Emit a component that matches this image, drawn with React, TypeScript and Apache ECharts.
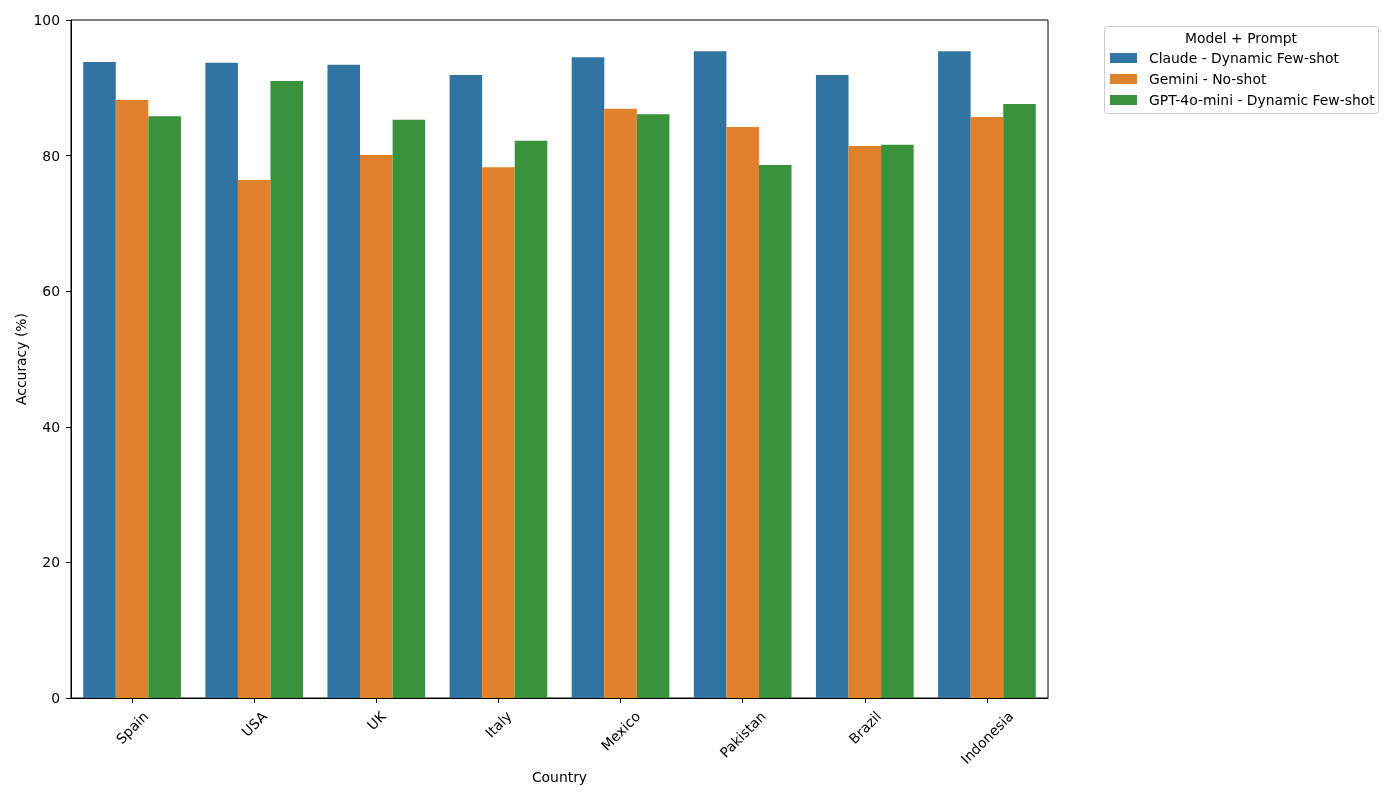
import React, { useEffect, useRef } from "react";
import * as echarts from "echarts";

const countries = ["Spain", "USA", "UK", "Italy", "Mexico", "Pakistan", "Brazil", "Indonesia"];
const seriesNames = ["Claude - Dynamic Few-shot", "Gemini - No-shot", "GPT-4o-mini - Dynamic Few-shot"];
const claude = [93.8, 93.7, 93.4, 91.9, 94.5, 95.4, 91.9, 95.4];
const gemini = [88.2, 76.4, 80.1, 78.3, 86.9, 84.2, 81.4, 85.7];
const gpt = [85.8, 91.0, 85.3, 82.2, 86.1, 78.6, 81.6, 87.6];
const colors = ["#3274a1", "#e1812c", "#3a923a"];
const FONT = "DejaVu Sans";
const FS = 13.9;

export default function App() {
  const ref = useRef<HTMLDivElement>(null);
  useEffect(() => {
    const chart = echarts.init(ref.current!, null, { renderer: "svg" });
    const data = [claude, gemini, gpt];
    const baseGraphic: any[] = [
      {
        type: "rect",
        shape: { x: 1104.5, y: 26.5, width: 274, height: 87, r: 3 },
        style: { fill: "#fff", stroke: "#cccccc", lineWidth: 1 },
        z: -1,
      },
      {
        type: "text",
        x: 1241, y: 38,
        style: {
          text: "Model + Prompt", fontFamily: FONT, fontSize: FS, fill: "#000",
          textAlign: "center", textVerticalAlign: "middle",
        },
      },
    ];
    chart.setOption({
      animation: false,
      textStyle: { fontFamily: FONT },
      grid: {
        left: 71, top: 20, width: 977, height: 678,
        show: true, borderColor: "#000", borderWidth: 1, backgroundColor: "transparent",
      },
      legend: {
        orient: "vertical",
        left: 1110,
        top: 51,
        padding: 0,
        itemWidth: 27,
        itemHeight: 10,
        itemGap: 7,
        icon: "rect",
        textStyle: { fontFamily: FONT, fontSize: FS, color: "#000", lineHeight: 14, padding: [0, 0, 0, 7] },
        data: seriesNames,
      },
      graphic: baseGraphic,
      xAxis: {
        type: "category",
        data: countries,
        name: "Country",
        nameLocation: "middle",
        nameGap: 72,
        nameMoveOverlap: false,
        nameTextStyle: { fontFamily: FONT, fontSize: FS, color: "#000" },
        axisLine: { show: true, lineStyle: { color: "#000" } },
        axisTick: { show: true, alignWithLabel: true, length: 5, lineStyle: { color: "#000" } },
        axisLabel: { show: false },
        splitLine: { show: false },
      },
      yAxis: {
        type: "value",
        min: 0, max: 100, interval: 20,
        name: "Accuracy (%)",
        nameLocation: "middle",
        nameGap: 43,
        nameMoveOverlap: false,
        nameTextStyle: { fontFamily: FONT, fontSize: FS, color: "#000" },
        axisLine: { show: true, lineStyle: { color: "#000" } },
        axisTick: { show: true, length: 5, lineStyle: { color: "#000" } },
        axisLabel: { fontFamily: FONT, fontSize: FS, color: "#000", margin: 11 },
        splitLine: { show: false },
      },
      series: seriesNames.map((n, i) => ({
        name: n,
        type: "bar",
        data: data[i],
        barGap: "0%",
        barCategoryGap: "20%",
        itemStyle: { color: colors[i] },
      })),
    });

    // Rotated, centred category labels (matplotlib style: bbox centred under tick)
    const canvas = document.createElement("canvas");
    const ctx = canvas.getContext("2d")!;
    ctx.font = `${FS}px "${FONT}"`;
    const axisY = chart.convertToPixel({ yAxisIndex: 0 }, 0) as number;
    const top = axisY + 10;
    const h = FS * 1.17;
    const labels = countries.map((c) => {
      const px = chart.convertToPixel({ xAxisIndex: 0 }, c) as number;
      const w = ctx.measureText(c).width;
      const cy = top + 0.3536 * (w + h);
      return {
        type: "text",
        x: px,
        y: cy,
        rotation: Math.PI / 4,
        style: {
          text: c, fontFamily: FONT, fontSize: FS, fill: "#000",
          textAlign: "center", textVerticalAlign: "middle",
        },
      };
    });
    chart.setOption({ graphic: [...baseGraphic, ...labels] });
    return () => chart.dispose();
  }, []);
  return <div ref={ref} style={{ position: "fixed", left: 0, top: 0, width: 1400, height: 800 }} />;
}
